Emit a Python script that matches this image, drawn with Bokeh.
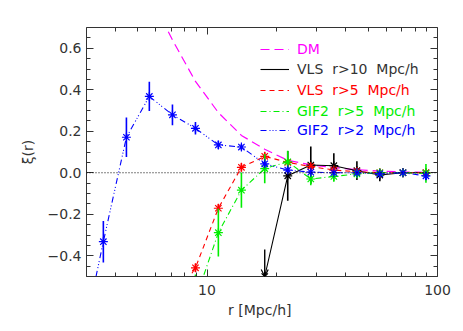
import numpy as np
from bokeh.plotting import figure
from bokeh.models import (Range1d, FixedTicker, LinearAxis, LogAxis, CustomJSTickFormatter,
                          Span, Legend, LegendItem, Arrow, OpenHead, ColumnDataSource)
from bokeh.embed import file_html
from bokeh.resources import INLINE

# ---------------- data ----------------
r_dm = [5.62, 7.08, 8.91, 11.2, 14.1, 17.8, 22.4, 28.2, 35.5, 44.7, 56.2, 70.8, 89.1]
xi_dm = [0.86, 0.64, 0.44, 0.29, 0.18, 0.113, 0.06, 0.038, 0.025, 0.015, 0.008, 0.004, 0.002]

r_vls10 = [17.8, 22.4, 28.2, 35.5, 44.7, 56.2, 70.8, 89.1]
xi_vls10 = [-0.5, -0.015, 0.037, 0.034, 0.01, -0.011, 0.0, 0.0]
err_vls10 = [0.0, 0.12, 0.09, 0.06, 0.045, 0.03, 0.02, 0.01]
lim_r_vls10 = [17.8]
lim_top_vls10 = [-0.37]
lim_val_vls10 = [-0.5]

r_vls5 = [7.08, 8.91, 11.2, 14.1, 17.8, 22.4, 28.2, 35.5, 44.7, 56.2, 70.8, 89.1]
xi_vls5 = [-0.63, -0.458, -0.171, 0.026, 0.079, 0.05, 0.03, 0.013, 0.005, 0.0, 0.0, 0.0]
err_vls5 = [0.02, 0.02, 0.02, 0.02, 0.02, 0.015, 0.015, 0.01, 0.01, 0.01, 0.01, 0.01]

r_gif5 = [8.91, 11.2, 14.1, 17.8, 22.4, 28.2, 35.5, 44.7, 56.2, 70.8, 89.1]
xi_gif5 = [-0.61, -0.289, -0.084, 0.02, 0.053, -0.03, -0.018, -0.005, 0.0, 0.0, -0.003]
err_gif5 = [0.12, 0.115, 0.085, 0.07, 0.053, 0.03, 0.025, 0.02, 0.015, 0.015, 0.045]

r_gif2 = [2.82, 3.55, 4.47, 5.62, 7.08, 8.91, 11.2, 14.1, 17.8, 22.4, 28.2, 35.5, 44.7, 56.2, 70.8, 89.1]
xi_gif2 = [-0.86, -0.332, 0.171, 0.368, 0.279, 0.214, 0.134, 0.124, 0.043, 0.013, 0.003, 0.0, 0.0, -0.005, 0.0, -0.015]
err_gif2 = [0.1, 0.1, 0.095, 0.07, 0.05, 0.03, 0.02, 0.015, 0.015, 0.015, 0.012, 0.01, 0.01, 0.01, 0.01, 0.02]

labels = ["DM", "VLS  r>10  Mpc/h", "VLS  r>5  Mpc/h", "GIF2  r>5  Mpc/h", "GIF2  r>2  Mpc/h"]
y_major = [-0.4, -0.2, 0.0, 0.2, 0.4, 0.6]
y_minor = [-0.5 + 0.05 * i for i in range(25)]
x_major = [10, 100]
x_minor = [3, 4, 5, 6, 7, 8, 9, 20, 30, 40, 50, 60, 70, 80, 90]

# ---------------- styles ----------------
FONT = "DejaVu Sans"
TXT = "#333333"
C_DM, C_BK, C_RD, C_GR, C_BL = "#ff00ff", "#000000", "#ff0000", "#00ee00", "#0000ff"

p = figure(width=463, height=331, x_axis_type="log",
           x_range=Range1d(3, 100), y_range=Range1d(-0.5, 0.7),
           output_backend="svg", toolbar_location=None,
           min_border_left=86, min_border_right=26, min_border_top=27, min_border_bottom=55)
p.grid.visible = False
p.outline_line_color = None
p.background_fill_color = "white"
p.border_fill_color = "white"

xt = FixedTicker(ticks=x_major, minor_ticks=x_minor)
yt = FixedTicker(ticks=y_major, minor_ticks=y_minor)
xfmt = CustomJSTickFormatter(code="return tick.toFixed(0);")
yfmt = CustomJSTickFormatter(code="return (tick < -1e-9 ? '\u2212' : '') + Math.abs(tick).toFixed(1);")


def style_axis(ax):
    ax.axis_line_color = "#333333"
    ax.axis_line_width = 1
    ax.major_tick_in = 7
    ax.major_tick_out = 0
    ax.minor_tick_in = 4
    ax.minor_tick_out = 0
    ax.major_tick_line_color = "#333333"
    ax.minor_tick_line_color = "#333333"
    ax.major_label_text_font = FONT
    ax.major_label_text_font_size = "14px"
    ax.major_label_text_color = TXT
    ax.axis_label_text_font = FONT
    ax.axis_label_text_font_size = "14px"
    ax.axis_label_text_font_style = "normal"
    ax.axis_label_text_color = TXT


xa = p.xaxis[0]
xa.ticker = xt
xa.formatter = xfmt
xa.axis_label = "r  [Mpc/h]"
style_axis(xa)
xa.major_label_standoff = 8
xa.axis_label_standoff = 4

ya = p.yaxis[0]
ya.ticker = yt
ya.formatter = yfmt
ya.axis_label = "\u03be(r)"
style_axis(ya)
ya.major_label_standoff = 5
ya.axis_label_standoff = 9

# mirrored tick-only axes on top and right
top = LogAxis(ticker=xt)
style_axis(top)
top.major_label_text_alpha = 0
top.major_label_text_font_size = "1px"
top.major_label_overrides = {10: " ", 100: " "}
p.add_layout(top, "above")
right = LinearAxis(ticker=yt)
style_axis(right)
right.major_label_text_alpha = 0
right.major_label_text_font_size = "1px"
p.add_layout(right, "right")

p.add_layout(Span(location=0, dimension="width", line_color="black", line_dash="1 2", line_width=1))


def errbars(r, xi, err, color):
    r = np.array(r); xi = np.array(xi); err = np.array(err)
    m = err > 0
    p.segment(x0=r[m], y0=(xi - err)[m], x1=r[m], y1=(xi + err)[m], line_color=color, line_width=1.6)


# DM
l_dm = p.line(r_dm, xi_dm, line_color=C_DM, line_dash="9 5", line_width=1.2)

# VLS r>10
l_bk = p.line(r_vls10, xi_vls10, line_color=C_BK, line_width=1.1)
errbars(r_vls10, xi_vls10, err_vls10, C_BK)
p.scatter(r_vls10, xi_vls10, marker="asterisk", size=9, line_color=C_BK, line_width=1.2)
lim_src = ColumnDataSource(dict(x=lim_r_vls10, y0=lim_top_vls10, y1=lim_val_vls10))
p.add_layout(Arrow(source=lim_src, x_start="x", y_start="y0", x_end="x", y_end="y1",
                   line_color=C_BK, line_width=1.4,
                   end=OpenHead(size=7, line_color=C_BK, line_width=1.2)))

# VLS r>5
l_rd = p.line(r_vls5, xi_vls5, line_color=C_RD, line_dash="5 4", line_width=1.1)
errbars(r_vls5, xi_vls5, err_vls5, C_RD)
p.scatter(r_vls5, xi_vls5, marker="asterisk", size=9, line_color=C_RD, line_width=1.2)

# GIF2 r>5
l_gr = p.line(r_gif5, xi_gif5, line_color=C_GR, line_dash="6 3 1 3", line_width=1.1)
errbars(r_gif5, xi_gif5, err_gif5, C_GR)
p.scatter(r_gif5, xi_gif5, marker="asterisk", size=9, line_color=C_GR, line_width=1.2)

# GIF2 r>2
l_bl = p.line(r_gif2, xi_gif2, line_color=C_BL, line_dash="6 3 1 2 1 2 1 3", line_width=1.1)
errbars(r_gif2, xi_gif2, err_gif2, C_BL)
p.scatter(r_gif2, xi_gif2, marker="asterisk", size=9, line_color=C_BL, line_width=1.2)

# legend: one small legend per entry so each label has its own colour
rows = [(l_dm, C_DM), (l_bk, TXT), (l_rd, C_RD), (l_gr, C_GR), (l_bl, C_BL)]
row_centers = [227.4, 206.7, 185.7, 164.7, 145.7]
for (ren, col), lab, yc in zip(rows, labels, row_centers):
    lg = Legend(items=[LegendItem(label=lab, renderers=[ren])],
                location=(174, yc - 10), padding=0, margin=0, spacing=0,
                glyph_width=29, glyph_height=20, label_height=20, label_standoff=8,
                label_text_font=FONT, label_text_font_size="14px", label_text_color=col,
                border_line_color=None, background_fill_alpha=0)
    p.add_layout(lg)

open("out.html", "w").write(file_html(p, INLINE))
